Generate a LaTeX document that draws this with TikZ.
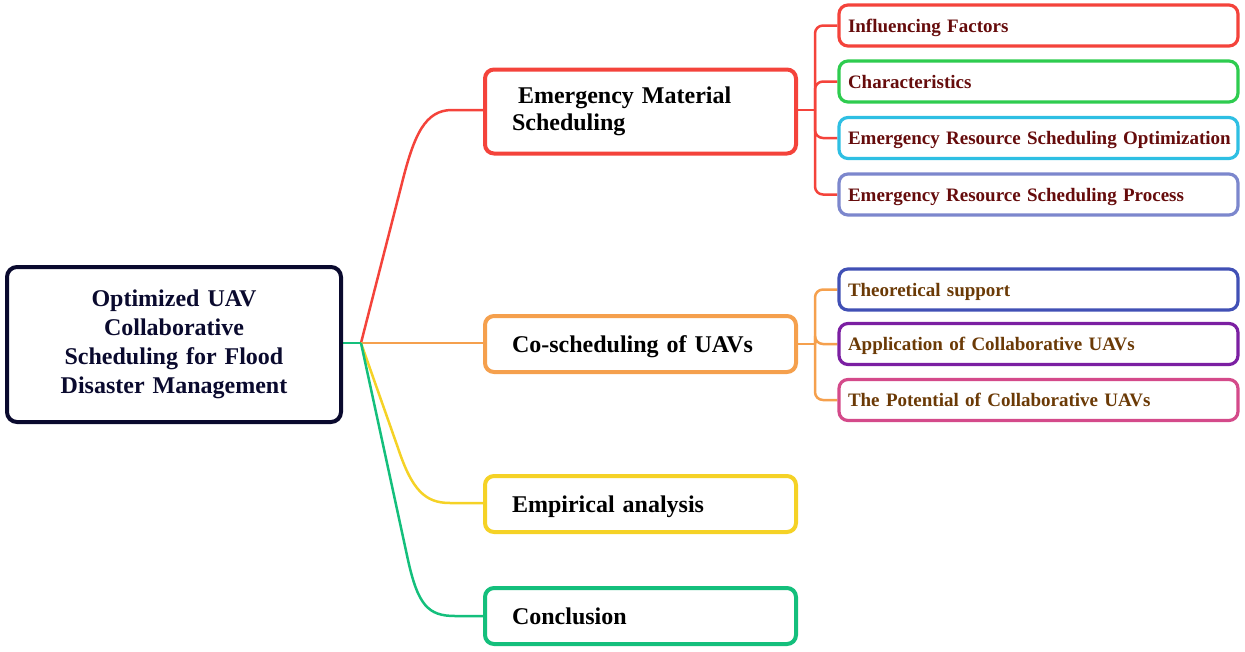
\documentclass[tikz,border=0pt]{standalone}
\usepackage{fontspec}
\setmainfont{Liberation Serif}
\definecolor{cred}{HTML}{F4433B}
\definecolor{corange}{HTML}{F5A04D}
\definecolor{cyellow}{HTML}{F5D226}
\definecolor{cgreen}{HTML}{14BF7C}
\definecolor{cgreenb}{HTML}{2ECC4F}
\definecolor{ccyan}{HTML}{2EBFE3}
\definecolor{cperi}{HTML}{7C87CD}
\definecolor{cblue}{HTML}{4150B5}
\definecolor{cpurple}{HTML}{7B1FA2}
\definecolor{cpink}{HTML}{D44A8A}
\definecolor{croot}{HTML}{0A0A2E}
\definecolor{tred}{HTML}{660C0C}
\definecolor{tbrown}{HTML}{6B3A06}
\pgfdeclarelayer{bg}
\pgfsetlayers{bg,main}
\tikzset{
  rootbox/.style={draw=croot, line width=4pt, rounded corners=10pt, fill=white,
    minimum width=334pt, minimum height=155pt, text width=300pt, align=center,
    inner xsep=17pt, font=\bfseries\fontsize{24}{28.8}\selectfont, text=croot},
  mainbox/.style={draw=#1, line width=4pt, rounded corners=9pt, fill=white,
    minimum height=56pt, text width=257pt, inner xsep=27pt, align=left,
    font=\bfseries\fontsize{24}{27}\selectfont, text=black},
  mainone/.style={mainbox=#1, text height=17pt, text depth=0pt},
  subbox/.style={draw=#1, line width=3.2pt, rounded corners=9pt, fill=white,
    minimum height=41pt, text width=381pt, inner xsep=9pt, align=left,
    text height=13pt, text depth=0pt,
    font=\bfseries\fontsize{19}{22}\selectfont},
  conn/.style={draw=#1, line width=2.5pt},
  subconn/.style={draw=#1, line width=2.5pt, rounded corners=8pt},
}
\begin{document}
\begin{tikzpicture}[x=1pt,y=-1pt]
\useasboundingbox (0,0) rectangle (1245,651);
% root
\node[rootbox] (root) at (174,344.5) {Optimized UAV\\Collaborative\\Scheduling for Flood\\Disaster Management};
% main boxes
\node[mainbox=cred, minimum height=84pt] (ems) at (640.5,111.5) {\hspace*{6pt}Emergency Material\\Scheduling};
\node[mainone=corange] (cos) at (640.5,344) {Co-scheduling of UAVs};
\node[mainone=cyellow] (emp) at (640.5,504) {Empirical analysis};
\node[mainone=cgreen] (con) at (640.5,616) {Conclusion};
% sub boxes group 1
\node[subbox=cred, text=tred] (s1) at (1038.5,25.5) {\mbox{Influencing Factors}};
\node[subbox=cgreenb, text=tred] (s2) at (1038.5,81.5) {\mbox{Characteristics}};
\node[subbox=ccyan, text=tred] (s3) at (1038.5,138) {\mbox{Emergency Resource Scheduling Optimization}};
\node[subbox=cperi, text=tred] (s4) at (1038.5,194.5) {\mbox{Emergency Resource Scheduling Process}};
% sub boxes group 2
\node[subbox=cblue, text=tbrown] (t1) at (1038.5,289.5) {\mbox{Theoretical support}};
\node[subbox=cpurple, text=tbrown] (t2) at (1038.5,344) {\mbox{Application of Collaborative UAVs}};
\node[subbox=cpink, text=tbrown] (t3) at (1038.5,400) {\mbox{The Potential of Collaborative UAVs}};
% connectors
\coordinate (j) at (361,343);
\coordinate (r1) at (815,110);
\coordinate (r2) at (815,344);
\begin{pgfonlayer}{bg}
\draw[conn=cred] (j) -- (402,183) .. controls (414,135) and (425,110) .. (452,110) -- (ems.west |- 0,110);
\draw[conn=corange] (j) -- (cos.west |- j);
\draw[conn=cyellow] (j) -- (398,448) .. controls (412,490) and (425,503) .. (450,503) -- (emp.west |- 0,503);
\draw[conn=cgreen] (j) -- (408,560) .. controls (418,605) and (428,616) .. (455,616) -- (con.west);
\draw[conn=cgreen] (root.east |- j) -- (j);
\draw[conn=cred] (ems.east |- r1) -- (r1);
\draw[conn=corange] (cos.east) -- (r2);
\foreach \s in {s1,s2,s3,s4}{
  \draw[subconn=cred] (r1) |- (\s.west);
}
\foreach \s in {t1,t2,t3}{
  \draw[subconn=corange] (r2) |- (\s.west);
}
\end{pgfonlayer}
\end{tikzpicture}
\end{document}
